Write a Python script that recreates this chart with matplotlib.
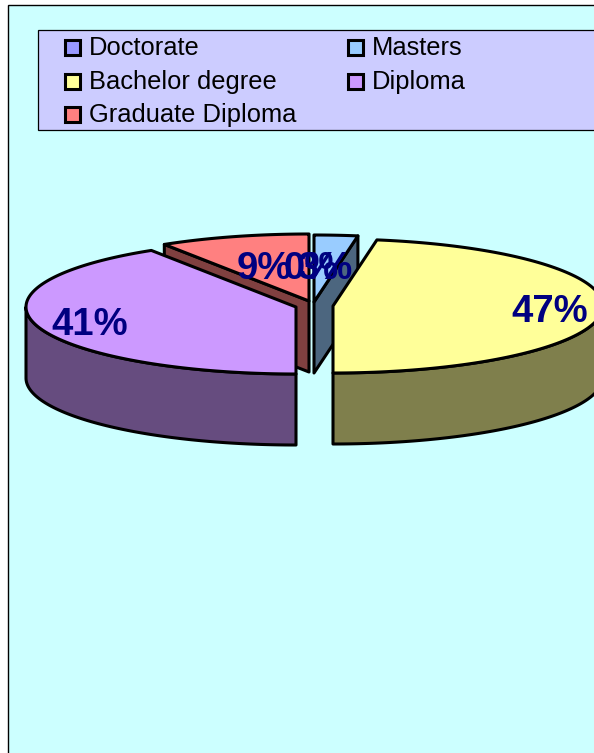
import matplotlib
matplotlib.use('Agg')
import matplotlib.pyplot as plt
from matplotlib.patches import Polygon, Rectangle
import numpy as np

plt.rcParams['font.family'] = ['Liberation Sans', 'DejaVu Sans']

# chart data
categories = ['Doctorate', 'Masters', 'Bachelor degree', 'Diploma', 'Graduate Diploma']
values = [0, 2.6, 47.4, 41, 9]

# slice colours
top_colors = ['#9999FF', '#99CCFF', '#FFFF99', '#CC99FF', '#FF8080']
side_colors = ['#4C4C7F', '#4C667F', '#7F7F4C', '#664C7F', '#804040']

# layout, in pixels of the output picture
centers = [(314, 302), (314, 302), (333, 306), (296, 307), (309, 301)]
label_pos = [(311, 269), (325, 269), (550, 312), (90, 325), (264, 269)]
legend_pos = [(65, 47), (348, 47), (65, 81), (348, 81), (65, 114)]
draw_order = [4, 1, 3, 2]
RX, RY, DEPTH = 270, 67, 71
LW = 2.2

fig = plt.figure(figsize=(5.94, 7.53), dpi=100)
ax = fig.add_axes([0, 0, 1, 1])
ax.set_xlim(0, 594)
ax.set_ylim(753, 0)
ax.axis('off')


def rim(center, start, end, drop=0):
    # points on the ellipse, angles clockwise from the top
    t = np.radians(np.linspace(start, end, 120))
    return np.column_stack([center[0] + RX * np.sin(t),
                            center[1] - RY * np.cos(t) + drop])


def add_poly(pts, color, z):
    ax.add_patch(Polygon(pts, closed=True, facecolor=color, edgecolor='black',
                         linewidth=LW, joinstyle='round', zorder=z))


def cut_face(center, angle, color, z):
    p = rim(center, angle, angle)[0]
    add_poly([center, p, (p[0], p[1] + DEPTH), (center[0], center[1] + DEPTH)], color, z)


# chart area and legend box
ax.add_patch(Rectangle((8, 4.5), 700, 900, facecolor='#CCFFFF', edgecolor='black', linewidth=1.0, zorder=0))
ax.add_patch(Rectangle((38, 30), 700, 100, facecolor='#CCCCFF', edgecolor='black', linewidth=0.9, zorder=1))

# start and end angle of every slice
ends = np.cumsum(values) / sum(values) * 360
starts = ends - np.array(values) / sum(values) * 360

z = 2
for i in draw_order:
    c, a0, a1 = centers[i], starts[i], ends[i]
    # cut faces that look towards the viewer
    if np.sin(np.radians(a0)) < -0.01:
        cut_face(c, a0, side_colors[i], z)
    if np.sin(np.radians(a1)) > 0.01:
        cut_face(c, a1, side_colors[i], z)
    # front part of the outer rim
    f0, f1 = max(a0, 90), min(a1, 270)
    if f1 > f0:
        upper = rim(c, f0, f1)
        lower = rim(c, f0, f1, DEPTH)[::-1]
        add_poly(np.vstack([upper, lower]), side_colors[i], z + 1)
    # top of the slice
    add_poly(np.vstack([[c], rim(c, a0, a1)]), top_colors[i], z + 2)
    z += 3

# percentage labels
for i, cat in enumerate(categories):
    ax.text(label_pos[i][0], label_pos[i][1], f'{values[i]:.0f}%', color='#000080', fontsize=27.5,
            fontweight='bold', ha='center', va='center', zorder=50)

# legend
for i, cat in enumerate(categories):
    x, y = legend_pos[i]
    ax.add_patch(Rectangle((x, y - 7.5), 15, 15, facecolor=top_colors[i], edgecolor='black',
                           linewidth=2.2, zorder=51))
    ax.text(x + 24, y + 0.5, cat, color='black', fontsize=18.4, ha='left', va='center', zorder=51)

fig.savefig('out.png', dpi=100)
